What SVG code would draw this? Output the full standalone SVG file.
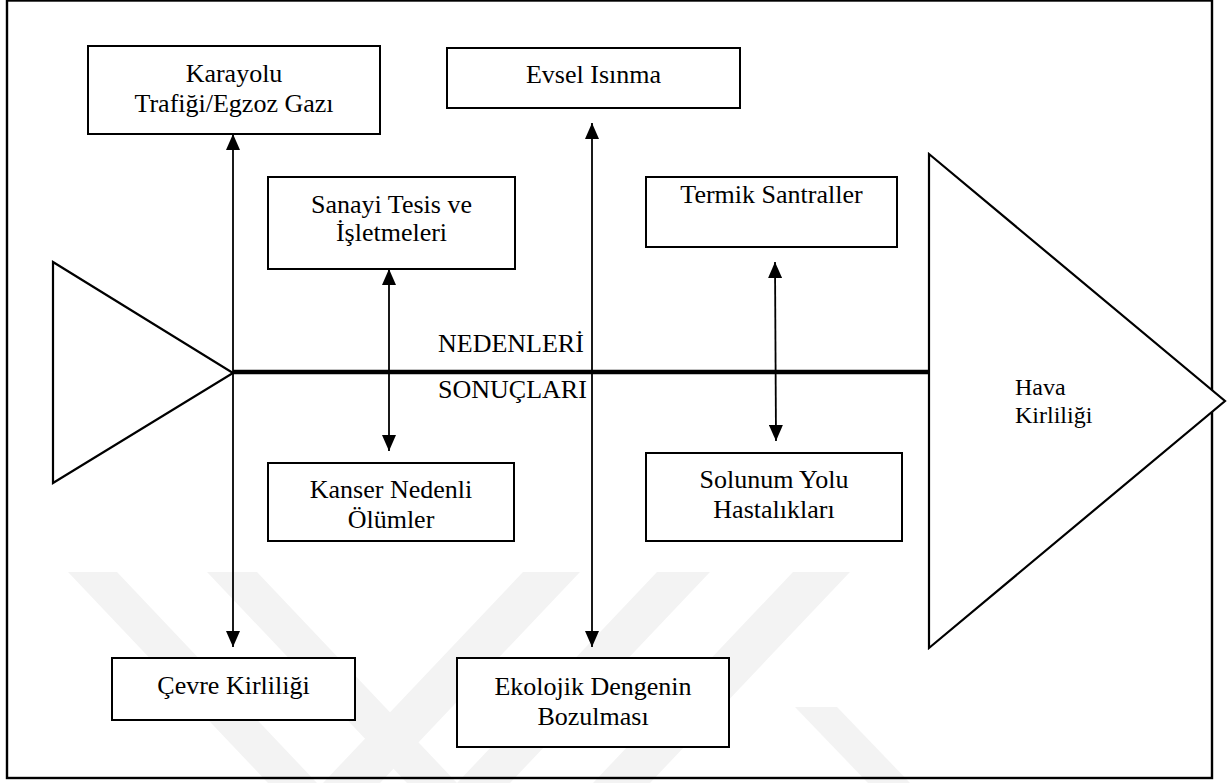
<svg xmlns="http://www.w3.org/2000/svg" width="1229" height="783" viewBox="0 0 1229 783">
  <style>
    .box { fill: #ffffff; stroke: #000000; stroke-width: 2; }
    .tri { fill: #ffffff; stroke: #000000; stroke-width: 2.2; stroke-linejoin: miter; }
    .lbl { font-family: "Liberation Serif", "Times New Roman", serif; font-size: 26px; fill: #000000; }
    .ctr { text-anchor: middle; }
    .small { font-size: 24px; }
    .link { fill: none; stroke: #000000; stroke-width: 1.8; }
    .mark { fill: #f3f3f3; stroke: none; }
  </style>
  <defs>
    <marker id="arrowhead" viewBox="0 0 16 14" refX="16" refY="7" markerWidth="16" markerHeight="14" markerUnits="userSpaceOnUse" orient="auto-start-reverse">
      <path d="M0,0 L16,7 L0,14 Z" fill="#000000"/>
    </marker>
  </defs>

  <rect x="0" y="0" width="1229" height="783" fill="#ffffff"/>

  <!-- faint background emblem -->
  <g id="emblem">
    <polygon class="mark" points="68,572 117,572 317,783 268,783"/>
    <polygon class="mark" points="207,572 257,572 457,783 407,783"/>
    <polygon class="mark" points="523,572 580,572 380,783 323,783"/>
    <polygon class="mark" points="657,572 710,572 510,783 457,783"/>
    <polygon class="mark" points="793,572 850,572 650,783 593,783"/>
    <polygon class="mark" points="795,707 837,707 910,783 868,783"/>
  </g>

  <!-- outer frame -->
  <rect x="7" y="0.5" width="1205" height="777.5" fill="none" stroke="#000000" stroke-width="2.4"/>

  <!-- fish tail and head -->
  <g id="tail">
    <polygon class="tri" points="53,262 233,373 53,483"/>
  </g>
  <g id="head">
    <polygon class="tri" points="929,154 1225,401 929,648"/>
    <text class="lbl small" x="1015" y="395">Hava</text>
    <text class="lbl small" x="1015" y="423">Kirliliği</text>
  </g>

  <!-- connectors -->
  <g id="connectors">
    <line x1="233" y1="372" x2="929" y2="372" stroke="#000000" stroke-width="4.5"/>
    <path class="link" d="M233,134 L233,647" marker-start="url(#arrowhead)" marker-end="url(#arrowhead)"/>
    <path class="link" d="M389,269 L389,451" marker-start="url(#arrowhead)" marker-end="url(#arrowhead)"/>
    <path class="link" d="M592,123 L592,647" marker-start="url(#arrowhead)" marker-end="url(#arrowhead)"/>
    <path class="link" d="M775,262 L776,441" marker-start="url(#arrowhead)" marker-end="url(#arrowhead)"/>
  </g>

  <!-- spine labels -->
  <g id="spine-labels">
    <text class="lbl" x="438" y="352">NEDENLERİ</text>
    <text class="lbl" x="438" y="398">SONUÇLARI</text>
  </g>

  <!-- causes -->
  <g id="karayolu">
    <rect class="box" x="88" y="46" width="292" height="88"/>
    <text class="lbl ctr" x="234" y="82">Karayolu</text>
    <text class="lbl ctr" x="234" y="112">Trafiği/Egzoz Gazı</text>
  </g>
  <g id="evsel">
    <rect class="box" x="447" y="48" width="293" height="60"/>
    <text class="lbl ctr" x="593.5" y="83">Evsel Isınma</text>
  </g>
  <g id="sanayi">
    <rect class="box" x="268" y="177" width="247" height="92"/>
    <text class="lbl ctr" x="391.5" y="213">Sanayi Tesis ve</text>
    <text class="lbl ctr" x="391.5" y="241">İşletmeleri</text>
  </g>
  <g id="termik">
    <rect class="box" x="646" y="177" width="251" height="70"/>
    <text class="lbl ctr" x="771.5" y="203">Termik Santraller</text>
  </g>

  <!-- effects -->
  <g id="kanser">
    <rect class="box" x="268" y="463" width="246" height="78"/>
    <text class="lbl ctr" x="391" y="498">Kanser Nedenli</text>
    <text class="lbl ctr" x="391" y="528">Ölümler</text>
  </g>
  <g id="solunum">
    <rect class="box" x="646" y="453" width="256" height="88"/>
    <text class="lbl ctr" x="774" y="488">Solunum Yolu</text>
    <text class="lbl ctr" x="774" y="518">Hastalıkları</text>
  </g>
  <g id="cevre">
    <rect class="box" x="112" y="658" width="243" height="62"/>
    <text class="lbl ctr" x="233.5" y="694">Çevre Kirliliği</text>
  </g>
  <g id="ekolojik">
    <rect class="box" x="457" y="658" width="272" height="89"/>
    <text class="lbl ctr" x="593" y="695">Ekolojik Dengenin</text>
    <text class="lbl ctr" x="593" y="725">Bozulması</text>
  </g>
</svg>
